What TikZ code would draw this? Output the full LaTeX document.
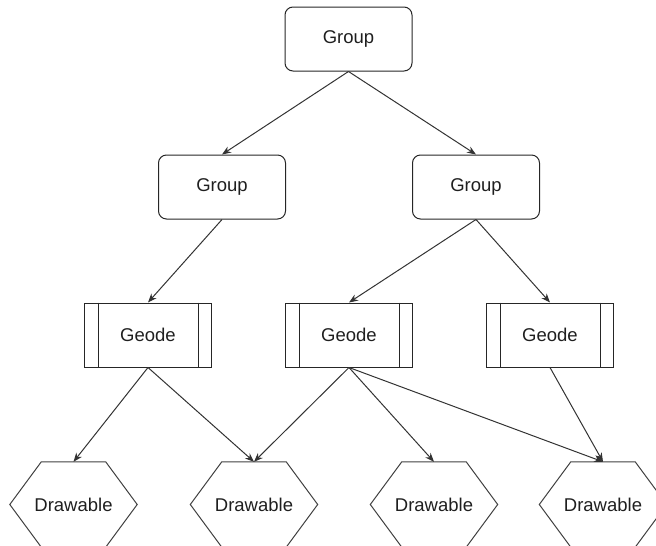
\documentclass[tikz,border=0pt]{standalone}
\usepackage{fontspec}
\setmainfont{Liberation Sans}
\usetikzlibrary{arrows.meta,calc}
\begin{document}
\begin{tikzpicture}[x=1pt,y=-1pt,
  every node/.style={font=\fontsize{18.5}{22}\selectfont, text=black!88},
  grp/.style={draw=black!85, line width=1pt, rounded corners=8pt, minimum width=127pt, minimum height=64pt, inner sep=0pt},
  geo/.style={draw=black!85, line width=1pt, minimum width=127pt, minimum height=64pt, inner sep=0pt},
  hexbox/.style={minimum width=127pt, minimum height=85pt, inner sep=0pt},
  hexline/.style={draw=black!75, line width=1pt},
  conn/.style={draw=black!80, line width=1pt, -{Stealth[length=9pt,width=7pt]}}]
\useasboundingbox (0,0) rectangle (656,546);
\clip (0,0) rectangle (656,546);
% groups
\node[grp] (g0) at (348.5,39) {Group};
\node[grp] (g1) at (222,187) {Group};
\node[grp] (g2) at (476,187) {Group};
% geodes
\node[geo] (e1) at (148,335) {Geode};
\node[geo] (e2) at (349,335) {Geode};
\node[geo] (e3) at (550,335) {Geode};
\foreach \n in {e1,e2,e3}{
  \draw[black!85, line width=1pt] ($(\n.north west)+(14,0)$) -- ($(\n.south west)+(14,0)$);
  \draw[black!85, line width=1pt] ($(\n.north east)+(-14,0)$) -- ($(\n.south east)+(-14,0)$);
}
% drawables
\node[hexbox] (d1) at (73.5,504.5) {Drawable};
\node[hexbox] (d2) at (254,504.5) {Drawable};
\node[hexbox] (d3) at (434,504.5) {Drawable};
\node[hexbox] (d4) at (603,504.5) {Drawable};
\foreach \n in {d1,d2,d3,d4}{
  \draw[hexline] ($(\n.north west)+(31.5,0)$) -- ($(\n.north east)+(-31.5,0)$) -- (\n.east)
    -- ($(\n.south east)+(-31.5,0)$) -- ($(\n.south west)+(31.5,0)$) -- (\n.west) -- cycle;
}
% connectors
\draw[conn] (g0.south) -- (g1.north);
\draw[conn] (g0.south) -- (g2.north);
\draw[conn] (g1.south) -- (e1.north);
\draw[conn] (g2.south) -- (e2.north);
\draw[conn] (g2.south) -- (e3.north);
\draw[conn] (e1.south) -- (d1.north);
\draw[conn] (e1.south) -- (d2.north);
\draw[conn] (e2.south) -- (d2.north);
\draw[conn] (e2.south) -- (d3.north);
\draw[conn] (e2.south) -- (d4.north);
\draw[conn] (e3.south) -- (d4.north);
\end{tikzpicture}
\end{document}
